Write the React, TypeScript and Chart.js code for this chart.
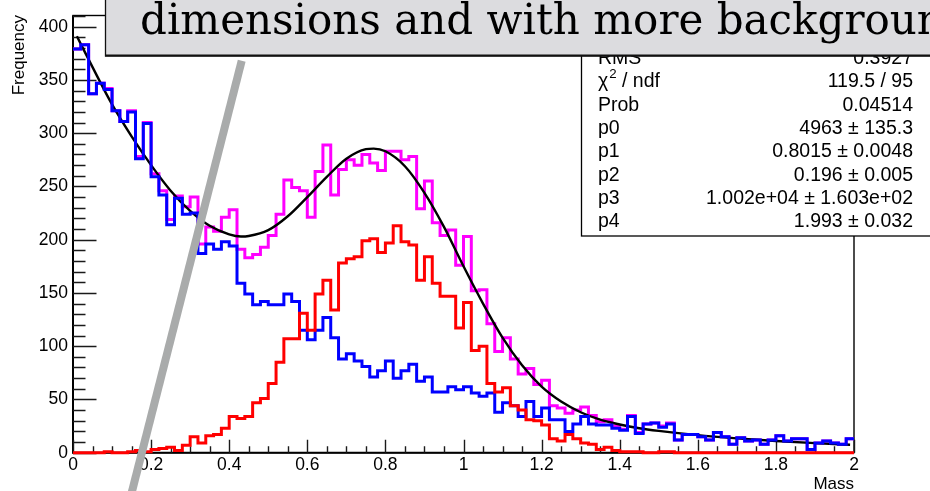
import React, { useEffect, useRef } from 'react';
import { Chart, registerables } from 'chart.js';

Chart.register(...registerables);

// ---- axis / binning ----
const X_MIN = 0;
const X_MAX = 2;
const N_BINS = 100;
const BIN_WIDTH = 0.02;
const Y_MIN = 0;
const Y_MAX = 410.5;
const X_TICKS = [0, 0.2, 0.4, 0.6, 0.8, 1, 1.2, 1.4, 1.6, 1.8, 2];
const Y_TICKS = [0, 50, 100, 150, 200, 250, 300, 350, 400];
const X_MINOR = 0.05;
const Y_MINOR = 10;

// ---- histogram contents ----
const totalCounts = [
  379, 383, 337, 347, 342, 321, 311, 321, 278, 310,
  262, 246, 219, 241, 231, 240, 196, 212, 208, 221,
  228, 191, 183, 186, 193, 204, 224, 256, 249, 246,
  221, 264, 289, 242, 266, 275, 270, 280, 272, 265,
  283, 283, 275, 278, 229, 255, 216, 204, 209, 176,
  203, 152, 153, 121, 95, 108, 88, 74, 79, 64,
  68, 44, 42, 37, 40, 43, 35, 29, 31, 25,
  22, 35, 19, 27, 28, 25, 28, 12, 17, 17,
  15, 12, 19, 15, 8, 14, 11, 12, 8, 12,
  16, 11, 13, 13, 3, 9, 11, 9, 8, 13,
];

const backgroundCounts = [
  379, 383, 337, 347, 341, 321, 311, 320, 276, 309,
  259, 242, 214, 239, 224, 225, 187, 196, 191, 198,
  194, 159, 149, 139, 142, 139, 139, 149, 142, 115,
  106, 115, 127, 108, 88, 93, 86, 81, 71, 77,
  86, 70, 77, 83, 67, 71, 57, 57, 62, 59,
  62, 56, 53, 56, 38, 47, 44, 34, 48, 34,
  42, 31, 31, 20, 27, 34, 27, 26, 26, 23,
  21, 34, 18, 27, 28, 24, 27, 12, 17, 17,
  15, 12, 19, 15, 8, 14, 11, 12, 8, 12,
  16, 11, 13, 13, 3, 9, 11, 9, 8, 13,
];

const signalCounts = [
  0, 0, 0, 0, 1, 0, 0, 1, 2, 1,
  3, 4, 5, 2, 7, 15, 9, 16, 17, 23,
  34, 32, 34, 47, 51, 65, 85, 107, 107, 131,
  115, 149, 162, 134, 178, 182, 184, 199, 201, 188,
  197, 213, 198, 195, 162, 184, 159, 147, 147, 117,
  141, 96, 100, 65, 57, 61, 44, 40, 31, 30,
  26, 13, 11, 17, 13, 9, 8, 3, 5, 2,
  1, 1, 1, 0, 0, 1, 1, 0, 0, 0,
  0, 0, 0, 0, 0, 0, 0, 0, 0, 0,
  0, 0, 0, 0, 0, 0, 0, 0, 0, 0,
];

// ---- fit curve samples ----
const fitX = [
  0.01, 0.05, 0.1, 0.15, 0.2, 0.25, 0.3, 0.35, 0.4, 0.43, 0.45, 0.5, 0.55, 0.6, 0.65,
  0.7, 0.75, 0.77, 0.8, 0.85, 0.9, 0.95, 1.0, 1.05, 1.1, 1.15, 1.2, 1.25, 1.3, 1.35,
  1.4, 1.45, 1.5, 1.6, 1.7, 1.8, 1.9, 1.99,
];
const fitY = [
  391, 362, 327, 297, 270, 246, 227, 213, 205, 203, 203.5, 209, 222, 240, 259,
  276, 285, 285.5, 283, 269, 244, 212, 175, 140, 108, 82, 62, 48, 38, 31,
  26.5, 23, 20.5, 16.5, 13.5, 11, 9, 7.5,
];

// ---- texts ----
const TITLE_TEXT = 'dimensions and with more background';
const X_TITLE = 'Mass';
const Y_TITLE = 'Frequency';
const STATS_LABELS = ['RMS', 'CHI2', 'Prob', 'p0', 'p1', 'p2', 'p3', 'p4'];
const STATS_VALUES = [
  '0.3927',
  '119.5 / 95',
  '0.04514',
  '4963 \u00b1 135.3',
  '0.8015 \u00b1 0.0048',
  '0.196 \u00b1 0.005',
  '1.002e+04 \u00b1 1.603e+02',
  '1.993 \u00b1 0.032',
];

// grey guide line, in data coordinates
const GUIDE_START = { x: 0.1485, y: -40 };
const GUIDE_END = { x: 0.432, y: 368 };

const SANS = '"Liberation Sans", Arial, Helvetica, sans-serif';
const SERIF = '"DejaVu Serif", serif';

const W = 930;
const H = 491;
const PLOT_LEFT = 73;
const PLOT_RIGHT = 854;
const PLOT_TOP = 15;
const PLOT_BOTTOM = 452.7;
const TICK_FONT = 17.5;

const fmtX = (v: number) => String(parseFloat(Number(v).toFixed(1)));

const decorPlugin = {
  id: 'decor',
  beforeDatasetsDraw(chart: any) {
    const { ctx, chartArea: a } = chart;
    const xs = chart.scales.x;
    const ys = chart.scales.y;
    ctx.save();
    ctx.strokeStyle = '#000';
    ctx.lineWidth = 1.4;
    ctx.strokeRect(a.left, a.top, a.right - a.left, a.bottom - a.top);
    ctx.lineWidth = 2;
    ctx.beginPath();
    ctx.moveTo(a.left, a.top);
    ctx.lineTo(a.left, a.bottom);
    ctx.lineTo(a.right, a.bottom);
    ctx.stroke();

    ctx.strokeStyle = '#1a1a1a';
    ctx.lineWidth = 1.4;
    ctx.beginPath();
    for (let v = Y_MIN; v <= Y_MAX + 1e-9; v += Y_MINOR) {
      const py = Math.round(ys.getPixelForValue(v)) + 0.5;
      const major = Y_TICKS.includes(v);
      ctx.moveTo(a.left, py);
      ctx.lineTo(a.left + (major ? 23.5 : 12.5), py);
    }
    const nx = Math.round((X_MAX - X_MIN) / X_MINOR);
    for (let i = 0; i <= nx; i++) {
      const v = X_MIN + i * X_MINOR;
      const px = Math.round(xs.getPixelForValue(v)) + 0.5;
      const major = i % 4 === 0;
      ctx.moveTo(px, a.bottom);
      ctx.lineTo(px, a.bottom - (major ? 13 : 6.5));
    }
    ctx.stroke();
    ctx.restore();
  },
  afterDraw(chart: any) {
    const { ctx } = chart;
    const xs = chart.scales.x;
    const ys = chart.scales.y;
    ctx.save();

    // grey guide line
    ctx.strokeStyle = '#a9abab';
    ctx.lineWidth = 8;
    ctx.lineCap = 'butt';
    ctx.beginPath();
    ctx.moveTo(xs.getPixelForValue(GUIDE_START.x), ys.getPixelForValue(GUIDE_START.y));
    ctx.lineTo(xs.getPixelForValue(GUIDE_END.x), ys.getPixelForValue(GUIDE_END.y));
    ctx.stroke();

    // axis titles
    ctx.fillStyle = '#000';
    ctx.font = `17px ${SANS}`;
    ctx.textBaseline = 'alphabetic';
    ctx.textAlign = 'right';
    ctx.fillText(X_TITLE, PLOT_RIGHT, 489);
    ctx.save();
    ctx.translate(24, PLOT_TOP);
    ctx.rotate(-Math.PI / 2);
    ctx.textAlign = 'right';
    ctx.fillText(Y_TITLE, 0, 0);
    ctx.restore();

    // stats box
    const sx = 581.5;
    const sBottom = 236;
    ctx.fillStyle = '#fff';
    ctx.fillRect(sx, -5, W - sx + 10, sBottom + 5);
    ctx.strokeStyle = '#000';
    ctx.lineWidth = 1.3;
    ctx.strokeRect(sx, -5, W - sx + 10, sBottom + 5);
    ctx.fillStyle = '#000';
    const fs = 19.5;
    ctx.font = `${fs}px ${SANS}`;
    ctx.textBaseline = 'middle';
    const rowY0 = 58.5;
    const rowH = 23.35;
    STATS_LABELS.forEach((lab, i) => {
      const cy = rowY0 + i * rowH;
      ctx.textAlign = 'left';
      if (lab === 'CHI2') {
        ctx.font = `${fs}px ${SANS}`;
        ctx.fillText('\u03c7', 598, cy);
        const w1 = ctx.measureText('\u03c7').width;
        ctx.font = `${fs * 0.68}px ${SANS}`;
        ctx.fillText('2', 598 + w1 + 1, cy - 7);
        const w2 = ctx.measureText('2').width;
        ctx.font = `${fs}px ${SANS}`;
        ctx.fillText(' / ndf', 598 + w1 + 1 + w2, cy);
      } else {
        ctx.font = `${fs}px ${SANS}`;
        ctx.fillText(lab, 598, cy);
      }
      ctx.textAlign = 'right';
      ctx.fillText(STATS_VALUES[i], 913, cy);
    });

    // title box
    ctx.fillStyle = '#dcdcdf';
    ctx.fillRect(105, -5, W, 61);
    ctx.strokeStyle = '#111';
    ctx.lineWidth = 1.3;
    ctx.strokeRect(105.5, -5, W, 61);
    ctx.beginPath();
    ctx.lineWidth = 2;
    ctx.moveTo(105, 55.5);
    ctx.lineTo(W, 55.5);
    ctx.stroke();
    ctx.fillStyle = '#000';
    ctx.font = `42px ${SERIF}`;
    ctx.textAlign = 'left';
    ctx.textBaseline = 'alphabetic';
    ctx.fillText(TITLE_TEXT, 140, 33.5);

    ctx.restore();
  },
};

export default function App() {
  const ref = useRef<HTMLCanvasElement>(null);

  useEffect(() => {
    const canvas = ref.current;
    if (!canvas) return;
    const edges = Array.from({ length: N_BINS + 1 }, (_, i) => +(X_MIN + i * BIN_WIDTH).toFixed(4));
    const hist = (vals: number[]) =>
      vals.map((v, i) => ({ x: edges[i], y: v })).concat([{ x: edges[N_BINS], y: vals[N_BINS - 1] }]);
    const histDs = (label: string, vals: number[], color: string, order: number) => ({
      label,
      data: hist(vals),
      borderColor: color,
      backgroundColor: color,
      borderWidth: 3,
      stepped: true,
      pointRadius: 0,
      fill: false,
      order,
      clip: 4,
      borderJoinStyle: 'miter',
      borderCapStyle: 'butt',
    });

    const chart = new Chart(canvas, {
      type: 'line',
      data: {
        datasets: [
          histDs('signal', signalCounts, '#ff0000', 0) as any,
          histDs('background', backgroundCounts, '#0000ff', 1) as any,
          {
            label: 'fit',
            data: fitX.map((x, i) => ({ x, y: fitY[i] })),
            borderColor: '#000',
            borderWidth: 2.4,
            pointRadius: 0,
            fill: false,
            cubicInterpolationMode: 'monotone',
            order: 2,
            clip: 4,
          } as any,
          histDs('total', totalCounts, '#ff00ff', 3) as any,
        ],
      },
      options: {
        animation: false,
        responsive: false,
        devicePixelRatio: 1,
        layout: { padding: { left: 0, right: W - PLOT_RIGHT, top: PLOT_TOP, bottom: 0 } },
        plugins: { legend: { display: false }, tooltip: { enabled: false }, title: { display: false } },
        elements: { point: { radius: 0 } },
        scales: {
          x: {
            type: 'linear',
            min: X_MIN,
            max: X_MAX,
            grid: { display: false, drawTicks: false },
            border: { display: false },
            ticks: {
              padding: 2,
              color: '#000',
              maxRotation: 0,
              autoSkip: false,
              font: { family: SANS, size: TICK_FONT },
              callback: (v: any) => fmtX(v),
            },
            afterBuildTicks: (s: any) => {
              s.ticks = X_TICKS.map((v) => ({ value: v }));
            },
            afterFit: (s: any) => {
              s.height = H - PLOT_BOTTOM;
            },
          },
          y: {
            type: 'linear',
            min: Y_MIN,
            max: Y_MAX,
            grid: { display: false, drawTicks: false },
            border: { display: false },
            ticks: {
              padding: 5,
              color: '#000',
              autoSkip: false,
              font: { family: SANS, size: TICK_FONT },
              callback: (v: any) => String(v),
            },
            afterBuildTicks: (s: any) => {
              s.ticks = Y_TICKS.map((v) => ({ value: v }));
            },
            afterFit: (s: any) => {
              s.width = PLOT_LEFT;
            },
          },
        },
      } as any,
      plugins: [decorPlugin as any],
    });
    return () => chart.destroy();
  }, []);

  return (
    <div style={{ position: 'fixed', left: 0, top: 0, width: W, height: H, background: '#fff', overflow: 'hidden' }}>
      <canvas ref={ref} width={W} height={H} style={{ display: 'block', width: W, height: H }} />
    </div>
  );
}
